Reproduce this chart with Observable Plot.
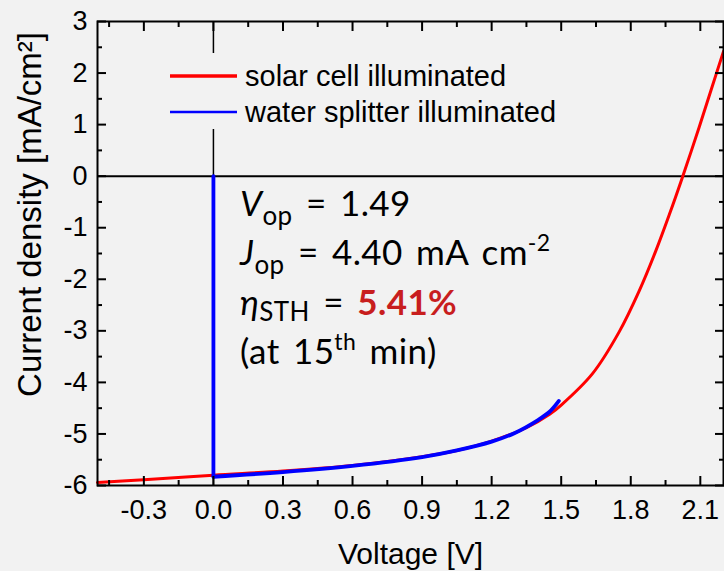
<!DOCTYPE html>
<html>
<head>
<meta charset="utf-8">
<script src="https://cdn.jsdelivr.net/npm/d3@7"></script>
<script src="https://cdn.jsdelivr.net/npm/@observablehq/plot@0.6"></script>
<style>
  html, body { margin: 0; padding: 0; background: #f2f2f2; }
  #chart { position: relative; width: 724px; height: 571px; }
</style>
</head>
<body>
<div id="chart"></div>
<script>
// ---- data ----
const solarV = [-0.5, -0.3, 0, 0.3, 0.6, 0.9, 1.05, 1.2, 1.35, 1.45, 1.5, 1.635, 1.75, 1.836, 1.908, 1.966, 2.023, 2.095, 2.152, 2.2];
const solarJ = [-5.94, -5.89, -5.80, -5.72, -5.61, -5.44, -5.32, -5.14, -4.88, -4.62, -4.44, -3.83, -3.02, -2.23, -1.45, -0.75, -0.02, 0.95, 1.75, 2.42];

const splitterV   = [0, 0, 0, 0.3, 0.6, 0.9, 1.05, 1.2, 1.3, 1.4, 1.45, 1.49];
const splitterJ   = [0, -5.83, -5.83, -5.74, -5.62, -5.45, -5.32, -5.15, -4.98, -4.73, -4.57, -4.36];
const splitterSeg = ["step", "step", "curve", "curve", "curve", "curve", "curve", "curve", "curve", "curve", "curve", "curve"];

const xMajor = [-0.3, 0, 0.3, 0.6, 0.9, 1.2, 1.5, 1.8, 2.1];
const xMinor = [-0.45, -0.15, 0.15, 0.45, 0.75, 1.05, 1.35, 1.65, 1.95];
const yMajor = [-6, -5, -4, -3, -2, -1, 0, 1, 2, 3];
const yMinor = [-5.5, -4.5, -3.5, -2.5, -1.5, -0.5, 0.5, 1.5, 2.5];

const seriesNames = ["solar cell illuminated", "water splitter illuminated"];
const seriesColors = ["#ff0000", "#0000ff"];

const xLabel = "Voltage [V]";
const yLabel = "Current density [mA/cm²]";

// ---- build tables ----
const solar = solarV.map((v, i) => ({v, j: solarJ[i]}));
const splitter = splitterV.map((v, i) => ({v, j: splitterJ[i], seg: splitterSeg[i]}));

const fmt = d => d.toFixed(1);
const fmtY = d => String(d);
const blank = () => "";

const plot = Plot.plot({
  width: 724,
  height: 571,
  marginLeft: 97,
  marginRight: 1,
  marginTop: 21,
  marginBottom: 86,
  style: {background: "#f2f2f2", fontFamily: "'Liberation Sans', Arial, sans-serif", color: "#000"},
  x: {domain: [-0.5, 2.2], axis: null},
  y: {domain: [-6, 3], axis: null},
  marks: [
    Plot.ruleY([0], {stroke: "#000", strokeWidth: 2}),
    Plot.ruleX([0], {stroke: "#000", strokeWidth: 1.5}),
    Plot.line(solar, {x: "v", y: "j", stroke: seriesColors[0], strokeWidth: 3, curve: "catmull-rom"}),
    Plot.line(splitter, {x: "v", y: "j", z: "seg", stroke: seriesColors[1], strokeWidth: 3.8, curve: "catmull-rom"}),
    Plot.frame({stroke: "#000", strokeWidth: 2}),
    Plot.axisX({ticks: xMajor, anchor: "bottom", label: null, tickSize: -9, tickPadding: 23, tickFormat: fmt, fontSize: 27, strokeWidth: 2}),
    Plot.axisX({ticks: xMinor, anchor: "bottom", label: null, tickSize: -5, tickFormat: blank, strokeWidth: 2}),
    Plot.axisX({ticks: xMajor, anchor: "top", label: null, tickSize: -9, tickFormat: blank, strokeWidth: 2}),
    Plot.axisX({ticks: xMinor, anchor: "top", label: null, tickSize: -5, tickFormat: blank, strokeWidth: 2}),
    Plot.axisY({ticks: yMajor, anchor: "left", label: null, tickSize: -9, tickPadding: 19, tickFormat: fmtY, fontSize: 27, strokeWidth: 2}),
    Plot.axisY({ticks: yMinor, anchor: "left", label: null, tickSize: -5, tickFormat: blank, strokeWidth: 2}),
    Plot.axisY({ticks: yMajor, anchor: "right", label: null, tickSize: -9, tickFormat: blank, strokeWidth: 2}),
    Plot.axisY({ticks: yMinor, anchor: "right", label: null, tickSize: -5, tickFormat: blank, strokeWidth: 2}),
    Plot.text([xLabel], {frameAnchor: "bottom", textAnchor: "middle", lineAnchor: "top", dy: 57, fontSize: 30, fill: "#000"}),
    Plot.text([yLabel], {frameAnchor: "left", textAnchor: "middle", lineAnchor: "middle", rotate: -90, dx: -67, dy: -39, fontSize: 33, fill: "#000"})
  ]
});

document.getElementById("chart").appendChild(plot);

// ---- legend & annotation drawn inside the same SVG ----
const svg = d3.select(plot);
const leg = svg.append("g").attr("text-anchor", "start");
leg.append("rect").attr("x", 160).attr("y", 53).attr("width", 405).attr("height", 76).attr("fill", "#f2f2f2");
seriesNames.forEach((name, i) => {
  const y = 76 + i * 36;
  leg.append("line").attr("x1", 170).attr("x2", 237).attr("y1", y).attr("y2", y)
     .attr("stroke", seriesColors[i]).attr("stroke-width", i === 0 ? 3.5 : 2.5);
  leg.append("text").attr("x", 245).attr("y", y + 10)
     .attr("font-family", "'Liberation Sans', Arial, sans-serif").attr("font-size", 29)
     .attr("fill", "#000").text(name);
});

const ann = svg.append("g").attr("text-anchor", "start")
  .attr("font-family", "Lato, 'Open Sans', sans-serif").attr("font-size", 35)
  .attr("word-spacing", 4).attr("letter-spacing", 0.4).attr("fill", "#000");
function line(y) { return ann.append("text").attr("x", 240).attr("y", y); }
let t;
t = line(216);
t.append("tspan").attr("font-style", "italic").text("V");
t.append("tspan").attr("font-size", 26).attr("dy", 9).text("op");
t.append("tspan").attr("dy", -9).text(" = 1.49");
t = line(265);
t.append("tspan").attr("font-style", "italic").text("J");
t.append("tspan").attr("font-size", 26).attr("dy", 9).text("op");
t.append("tspan").attr("dy", -9).text(" = 4.40 mA cm");
t.append("tspan").attr("font-size", 23).attr("dy", -14).text("-2");
t = line(315);
t.append("tspan").attr("font-style", "italic").text("η");
t.append("tspan").attr("font-size", 26).attr("dy", 6).text("STH");
t.append("tspan").attr("dy", -6).text(" = ");
t.append("tspan").attr("font-weight", "bold").attr("fill", "#c81e1e").text("5.41%");
t = line(364);
t.append("tspan").text("(at 15");
t.append("tspan").attr("font-size", 23).attr("dy", -14).text("th");
t.append("tspan").attr("dy", 14).text(" min)");
</script>
</body>
</html>
